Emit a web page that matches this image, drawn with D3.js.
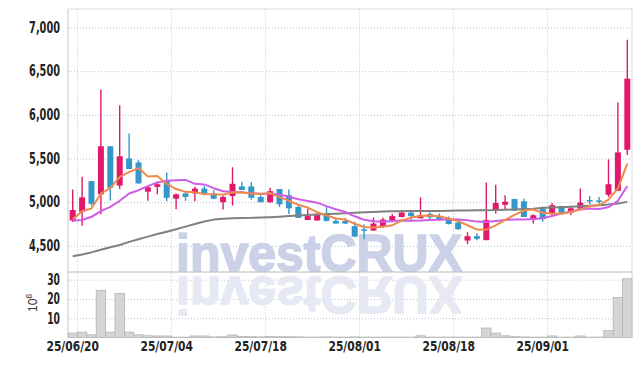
<!DOCTYPE html>
<html>
<head>
<meta charset="utf-8">
<script src="https://cdnjs.cloudflare.com/ajax/libs/d3/7.8.5/d3.min.js"></script>
<style>
  body { margin: 0; background: #fff; }
  .lbl text { font-family: "DejaVu Sans Condensed", "DejaVu Sans", sans-serif; font-weight: bold; fill: #222; }
  .axis path, .axis line { display: none; }
  .grid line { stroke: #bcc1d8; stroke-dasharray: 1,2; }
  .grid path { display: none; }
</style>
</head>
<body>
<div id="graph"></div>
<script>
// trading days shown
var dates = ["2025-06-20","2025-06-23","2025-06-24","2025-06-25","2025-06-26","2025-06-27","2025-06-30","2025-07-01","2025-07-02","2025-07-03",
  "2025-07-04","2025-07-07","2025-07-08","2025-07-09","2025-07-10","2025-07-11","2025-07-14","2025-07-15","2025-07-16","2025-07-17",
  "2025-07-18","2025-07-21","2025-07-22","2025-07-23","2025-07-24","2025-07-25","2025-07-28","2025-07-29","2025-07-30","2025-07-31",
  "2025-08-01","2025-08-04","2025-08-05","2025-08-06","2025-08-07","2025-08-08","2025-08-11","2025-08-12","2025-08-13","2025-08-14",
  "2025-08-18","2025-08-19","2025-08-20","2025-08-21","2025-08-22","2025-08-25","2025-08-26","2025-08-27","2025-08-28","2025-08-29",
  "2025-09-01","2025-09-02","2025-09-03","2025-09-04","2025-09-05","2025-09-08","2025-09-09","2025-09-10","2025-09-11","2025-09-12"];

var openP = [4790,4890,5240,5090,5640,5190,5500,5455,5120,5175,
  5250,5040,5100,5100,5155,5100,5000,5070,5180,5180,
  5060,5000,5150,5080,4945,4795,4790,4865,4785,4785,
  4725,4690,4675,4720,4795,4830,4880,4815,4865,4830,
  4815,4765,4560,4610,4565,4900,4970,5035,5010,4795,
  4930,4865,4955,4880,4925,5025,5020,5085,5130,5600];
var highP = [5145,5290,5240,6290,5640,6110,5785,5480,5180,5225,
  5340,5100,5120,5175,5185,5135,5070,5400,5230,5230,
  5080,5165,5150,5145,4955,4925,4870,4945,4820,4820,
  4775,4745,4825,4820,4865,4910,4900,5055,4885,4870,
  4835,4795,4655,4645,5225,5200,5080,5040,5040,4860,
  4935,4990,4960,4960,5155,5070,5060,5490,6140,6860];
var lowP = [4775,4730,4960,4860,5020,5150,5380,5210,5015,5090,
  5010,4920,5015,5010,5080,5035,4915,4960,5135,5030,
  4995,4990,4945,4865,4820,4795,4790,4780,4755,4750,
  4600,4575,4670,4705,4770,4825,4795,4815,4800,4795,
  4745,4685,4520,4565,4565,4870,4910,4900,4830,4755,
  4775,4830,4875,4850,4920,4975,4960,5060,5130,5540];
var closeP = [4910,5055,4980,5640,5165,5525,5380,5215,5170,5205,
  5050,5090,5060,5155,5100,5040,5060,5210,5140,5050,
  5000,5125,4975,4930,4820,4840,4865,4785,4755,4755,
  4605,4675,4755,4800,4840,4880,4840,4850,4825,4800,
  4750,4690,4610,4580,4795,4990,5005,4900,4830,4850,
  4805,4965,4880,4930,4995,5010,5010,5205,5570,6415];

// moving averages as drawn
var ma5 = [4803,4897,4928,5099,5160,5290,5345,5390,5295,5300,
  5210,5150,5118,5112,5093,5090,5085,5112,5110,5100,
  5092,5105,5058,5016,4970,4938,4886,4848,4813,4800,
  4753,4715,4709,4718,4735,4790,4823,4842,4847,4839,
  4813,4783,4735,4686,4685,4733,4796,4854,4904,4915,
  4878,4870,4866,4886,4915,4956,4965,5030,5158,5442];
var ma10 = [4787,4795,4832,4897,4946,5015,5099,5137,5183,5226,
  5245,5250,5255,5210,5203,5160,5125,5115,5112,5100,
  5097,5096,5087,5062,5033,5013,4994,4954,4918,4887,
  4838,4798,4780,4775,4785,4790,4788,4790,4795,4797,
  4804,4802,4792,4777,4772,4784,4796,4800,4802,4808,
  4815,4842,4869,4892,4917,4926,4922,4942,5015,5185];
var ma60 = [4380,4400,4425,4455,4483,4510,4545,4575,4605,4635,
  4660,4690,4720,4750,4778,4800,4810,4815,4818,4820,
  4825,4828,4833,4840,4847,4853,4858,4863,4868,4873,
  4878,4883,4888,4893,4895,4897,4898,4899,4900,4900,
  4901,4903,4905,4907,4908,4909,4913,4917,4921,4925,
  4935,4938,4942,4946,4952,4958,4965,4972,4985,5003];

// volume in millions of shares
var volume = [2.3,2.8,1.4,24.5,2.8,22.8,2.8,1.4,0.9,0.8,
  0.8,0.2,0.2,0.8,0.8,0.3,0.4,1.3,0.5,0.4,
  0.3,0.5,0.4,0.4,0.3,0.2,0.2,0.3,0.2,0.2,
  0.3,0.2,0.2,0.2,0.2,0.2,0.2,0.9,0.2,0.2,
  0.2,0.2,0.2,0.2,4.9,2.3,0.9,0.4,0.3,0.2,
  0.2,0.8,0.2,0.2,0.8,0.2,0.2,3.6,20.8,30.5];

var priceTicks = [4500,5000,5500,6000,6500,7000];
var volTicks = [10,20,30];
var dateTicks = ["2025-06-20","2025-07-04","2025-07-18","2025-08-01","2025-08-18","2025-09-01"];

var width = 642, height = 366;
var plotL = 68, plotR = 632, plotT = 9, split = 272, plotB = 337.5;

var data = dates.map(function(d, i) {
  return { date: d, o: openP[i], h: highP[i], l: lowP[i], c: closeP[i], v: volume[i] };
});

var svg = d3.select("#graph").append("svg")
  .attr("width", width)
  .attr("height", height);

var x = d3.scaleBand().domain(dates).range([plotL, plotR]).padding(0);
var y = d3.scaleLinear().domain([4200, 7212]).range([split, plotT]);
var yv = d3.scaleLinear().domain([0, 34]).range([plotB, split]);

//grids
svg.append("g").attr("class", "grid")
  .attr("transform", "translate(" + plotL + ",0)")
  .call(d3.axisLeft(y).tickValues(priceTicks).tickSize(-(plotR - plotL)).tickFormat(""));
svg.append("g").attr("class", "grid")
  .attr("transform", "translate(" + plotL + ",0)")
  .call(d3.axisLeft(yv).tickValues(volTicks).tickSize(-(plotR - plotL)).tickFormat(""));
svg.append("g").attr("class", "grid")
  .attr("transform", "translate(" + (x.bandwidth() / 2) + "," + plotB + ")")
  .call(d3.axisBottom(x).tickValues(dateTicks).tickSize(-(plotB - plotT)).tickFormat(""));

// watermark + reflection (stroke thickens the letters a bit)
function watermark(color, flip) {
  var t = svg.append("text")
    .attr("x", 176).attr("y", 271)
    .attr("textLength", 286).attr("lengthAdjust", "spacingAndGlyphs")
    .attr("font-family", "Liberation Sans, Arial, sans-serif")
    .attr("font-weight", "bold").attr("font-size", 52)
    .style("fill", color)
    .style("stroke", color)
    .style("stroke-width", 1.6)
    .text("investCRUX");
  if (flip) t.attr("transform", "translate(0," + (2 * 274) + ") scale(1,-1)");
}
watermark("#cbd1e7", false);
watermark("#e6e9f3", true);

// frame
svg.append("line").attr("x1", plotL).attr("x2", plotR).attr("y1", plotT).attr("y2", plotT).style("stroke", "#d8d8d8");
svg.append("line").attr("x1", plotR).attr("x2", plotR).attr("y1", plotT).attr("y2", plotB).style("stroke", "#d8d8d8");
svg.append("line").attr("x1", plotL).attr("x2", plotL).attr("y1", plotT).attr("y2", plotB).style("stroke", "#c8c8c8");
svg.append("line").attr("x1", plotL).attr("x2", plotR).attr("y1", split).attr("y2", split).style("stroke", "#b8b8b8");

// volume bars
svg.append("g").selectAll("rect")
  .data(data)
  .enter().append("rect")
  .attr("x", function(d) { return x(d.date); })
  .attr("width", x.bandwidth())
  .attr("y", function(d) { return yv(d.v); })
  .attr("height", function(d) { return plotB - yv(d.v); })
  .style("fill", "#d5d5d5")
  .style("stroke", "#b4b4b4")
  .style("stroke-width", 0.8);

// candles
var up = "#e2186b", down = "#3497c9";
var bodyW = 6;
var candles = svg.append("g").selectAll("g")
  .data(data)
  .enter().append("g");
candles.append("line")
  .attr("x1", function(d) { return x(d.date) + x.bandwidth() / 2; })
  .attr("x2", function(d) { return x(d.date) + x.bandwidth() / 2; })
  .attr("y1", function(d) { return y(d.h); })
  .attr("y2", function(d) { return y(d.l); })
  .style("stroke", function(d) { return d.c >= d.o ? up : down; })
  .style("stroke-width", 1.4);
candles.append("rect")
  .attr("x", function(d) { return x(d.date) + (x.bandwidth() - bodyW) / 2; })
  .attr("width", bodyW)
  .attr("y", function(d) { return y(Math.max(d.o, d.c)); })
  .attr("height", function(d) { return Math.max(1.5, Math.abs(y(d.o) - y(d.c))); })
  .style("fill", function(d) { return d.c >= d.o ? up : down; });

// moving average lines
function maLine(vals, color) {
  var line = d3.line()
    .x(function(d, i) { return x(dates[i]) + x.bandwidth() / 2; })
    .y(function(d) { return y(d); });
  svg.append("path")
    .datum(vals)
    .attr("d", line)
    .style("fill", "none")
    .style("stroke", color)
    .style("stroke-width", 2)
    .style("stroke-linejoin", "round");
}
maLine(ma60, "#808080");
maLine(ma10, "#cf5ce9");
maLine(ma5, "#f08a4c");

// axes labels (squeezed to the narrow look of the original)
function squeeze(sel, perChar, perComma) {
  sel.each(function() {
    var t = this.textContent;
    var commas = (t.match(/[,\/]/g) || []).length;
    d3.select(this)
      .attr("textLength", (t.length - commas) * perChar + commas * perComma)
      .attr("lengthAdjust", "spacingAndGlyphs");
  });
}
svg.append("g").attr("class", "axis lbl")
  .attr("transform", "translate(" + (plotL - 5) + ",0)")
  .call(d3.axisLeft(y).tickValues(priceTicks).tickSize(0).tickFormat(d3.format(",")))
  .selectAll("text").style("font-size", "15px").call(squeeze, 6.6, 4.5);
svg.append("g").attr("class", "axis lbl")
  .attr("transform", "translate(" + (plotL - 5) + ",0)")
  .call(d3.axisLeft(yv).tickValues(volTicks).tickSize(0))
  .selectAll("text").style("font-size", "15px").call(squeeze, 6.4, 4.5);
svg.append("g").attr("class", "axis lbl")
  .attr("transform", "translate(0," + (plotB + 1) + ")")
  .call(d3.axisBottom(x).tickValues(dateTicks).tickSize(0)
    .tickFormat(function(d) { return d.slice(2).replace(/-/g, "/"); }))
  .selectAll("text").style("font-size", "14px").call(squeeze, 6.9, 5.5);

var unit = svg.append("text")
  .attr("transform", "translate(37,312) rotate(-90)")
  .attr("font-family", "Liberation Sans, Arial, sans-serif")
  .attr("font-size", 12)
  .attr("fill", "#333");
unit.append("tspan").text("10");
unit.append("tspan").attr("dy", -5).attr("font-size", 9).text("6");
</script>
</body>
</html>
